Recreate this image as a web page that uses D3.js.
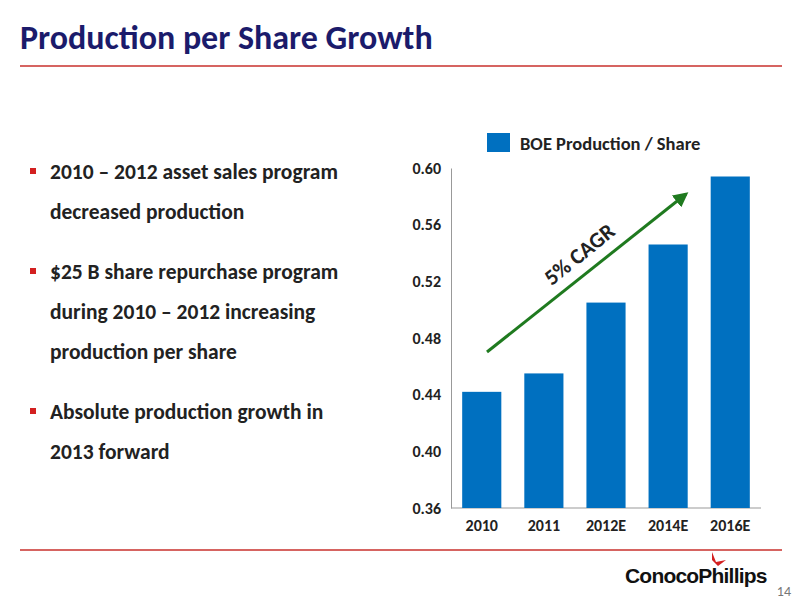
<!DOCTYPE html>
<html><head><meta charset="utf-8">
<script src="https://cdn.jsdelivr.net/npm/d3@7"></script>
<style>body{margin:0;background:#fff}svg{font-family:Calibri,Carlito,Lato,"Open Sans",Arial,sans-serif}</style>
</head><body>
<svg id="c" width="800" height="600"></svg>
<script>
const categories=["2010","2011","2012E","2014E","2016E"];
const values=[0.442,0.455,0.505,0.546,0.594];
const yTicks=[0.36,0.40,0.44,0.48,0.52,0.56,0.60];
const bullets=[["2010 – 2012 asset sales program","decreased production"],["$25 B share repurchase program","during 2010 – 2012 increasing","production per share"],["Absolute production growth in","2013 forward"]];
const svg=d3.select("#c");
svg.append("text").attr("x",20).attr("y",49).attr("font-size",34).attr("font-weight","bold").attr("fill","#1b1b6b").text("Production per Share Growth");
svg.append("line").attr("x1",20).attr("x2",782).attr("y1",66).attr("y2",66).attr("stroke","#c8302c").attr("stroke-width",1.5);
svg.append("line").attr("x1",20).attr("x2",782).attr("y1",550).attr("y2",550).attr("stroke","#c8302c").attr("stroke-width",1.5);
let yy=179;
bullets.forEach((b,i)=>{
  svg.append("rect").attr("x",30).attr("y",yy-11).attr("width",6).attr("height",6).attr("fill","#d32020");
  b.forEach((l,j)=>{svg.append("text").attr("x",50).attr("y",yy+j*40).attr("font-size",21.5).attr("font-weight","bold").attr("fill","#222").text(l);});
  yy+=b.length*40+20;
});
const y=d3.scaleLinear().domain([0.36,0.60]).range([508,168]);
const x=d3.scaleBand().domain(categories).range([451,761]).paddingInner(0.37).paddingOuter(0.18);
const ax=svg.append("g").attr("transform","translate(451,0)").call(d3.axisLeft(y).tickValues(yTicks).tickFormat(d3.format(".2f")).tickSize(0).tickPadding(10));
ax.select(".domain").attr("stroke","#999");
ax.selectAll("text").attr("font-size",16).attr("font-weight","bold").attr("fill","#222").attr("font-family","Calibri,Carlito,Lato,'Open Sans',Arial,sans-serif");
svg.append("line").attr("x1",451).attr("x2",761).attr("y1",508).attr("y2",508).attr("stroke","#999");
svg.selectAll(".bar").data(values).enter().append("rect").attr("x",(d,i)=>x(categories[i])).attr("width",x.bandwidth()).attr("y",d=>y(d)).attr("height",d=>508-y(d)).attr("fill","#0070c0");
svg.selectAll(".xl").data(categories).enter().append("text").attr("x",d=>x(d)+x.bandwidth()/2).attr("y",531).attr("text-anchor","middle").attr("font-size",16).attr("font-weight","bold").attr("fill","#222").text(d=>d);
svg.append("rect").attr("x",487).attr("y",133).attr("width",23).attr("height",19).attr("fill","#0070c0");
svg.append("text").attr("x",520).attr("y",150).attr("font-size",18.5).attr("font-weight","bold").attr("fill","#222").text("BOE Production / Share");
svg.append("defs").append("marker").attr("id","ah").attr("viewBox","0 0 10 10").attr("refX",8).attr("refY",5).attr("markerWidth",5).attr("markerHeight",5).attr("orient","auto").append("path").attr("d","M0,0L10,5L0,10z").attr("fill","#1f7a1f");
svg.append("line").attr("x1",487).attr("y1",352).attr("x2",686).attr("y2",194).attr("stroke","#1f7a1f").attr("stroke-width",3).attr("marker-end","url(#ah)");
svg.append("text").attr("transform","translate(584,260) rotate(-39)").attr("text-anchor","middle").attr("font-size",22).attr("font-weight","bold").attr("fill","#222").text("5% CAGR");
svg.append("text").attr("x",625).attr("y",583).attr("font-size",21).attr("font-weight","bold").attr("fill","#111").attr("font-family","Arial,Liberation Sans,sans-serif").attr("letter-spacing",-0.8).text("ConocoPhillips");
svg.append("path").attr("d","M712,552 L716,562 L726,560 L718,566 L712,560 Z").attr("fill","#d32020");
svg.append("text").attr("x",791).attr("y",596).attr("text-anchor","end").attr("font-size",14).attr("fill","#777").text("14");
</script></body></html>
